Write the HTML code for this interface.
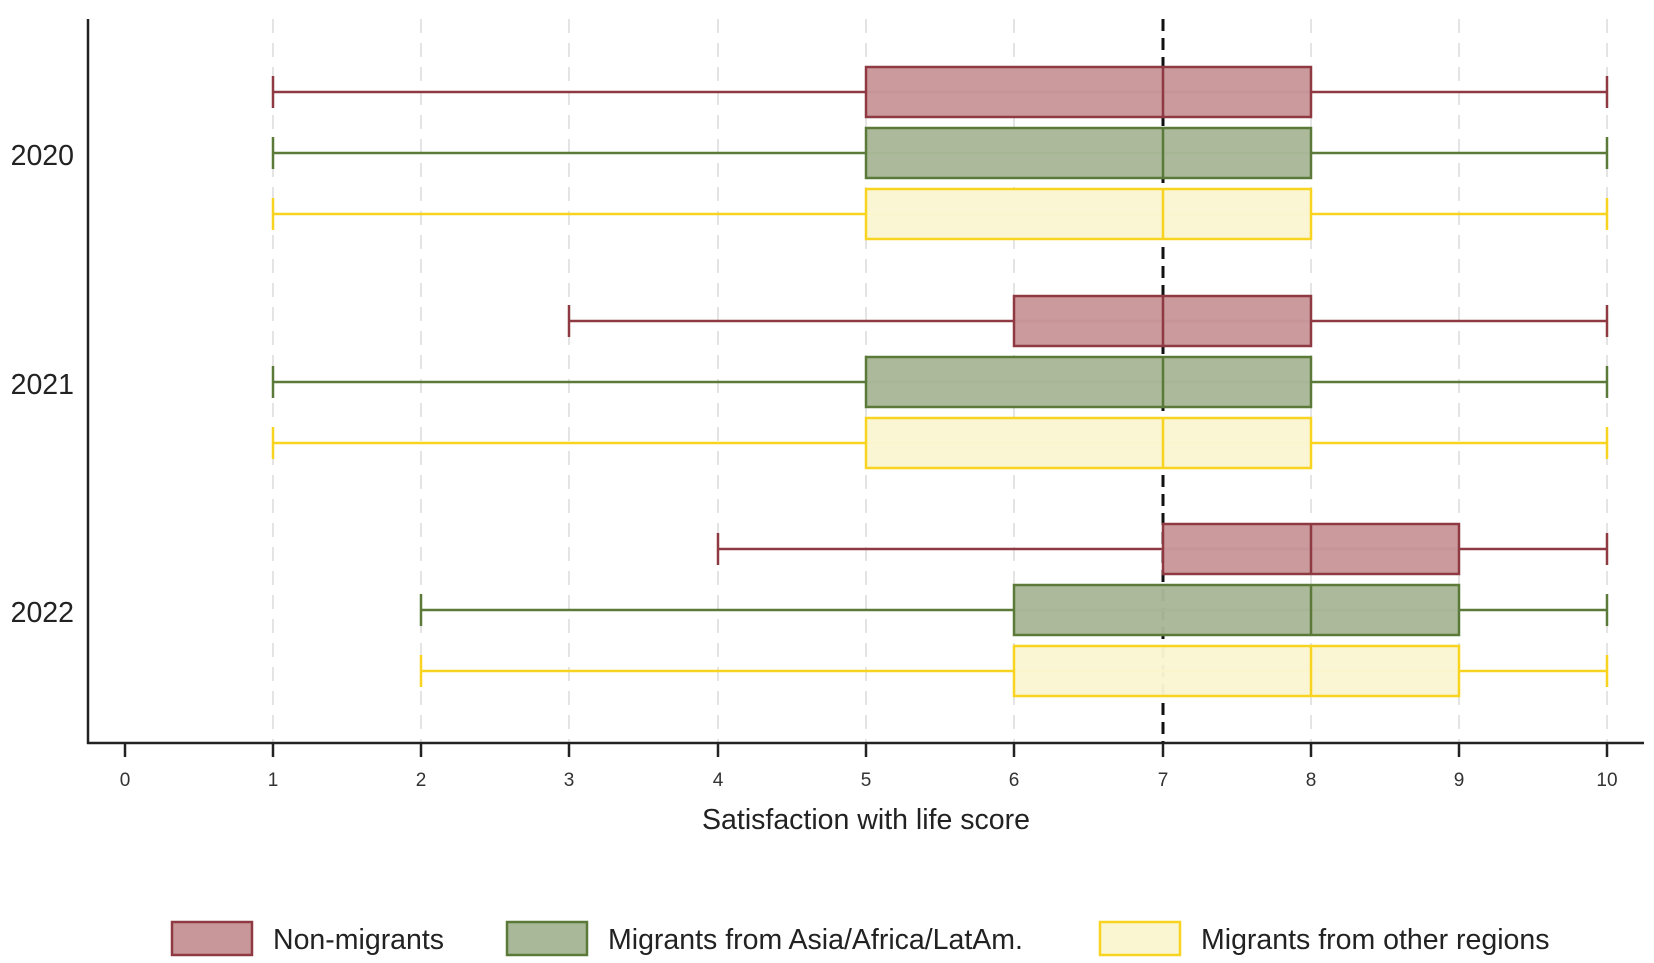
<!DOCTYPE html>
<html><head><meta charset="utf-8"><style>body{margin:0;background:#fff}svg{display:block}</style></head>
<body>
<svg width="1654" height="963" viewBox="0 0 1654 963" xmlns="http://www.w3.org/2000/svg" font-family="Liberation Sans, Arial, sans-serif">
<g stroke="#e4e4e4" stroke-width="2" stroke-dasharray="14,10">
<line x1="273" y1="19" x2="273" y2="743"/><line x1="421" y1="19" x2="421" y2="743"/><line x1="569" y1="19" x2="569" y2="743"/><line x1="718" y1="19" x2="718" y2="743"/><line x1="866" y1="19" x2="866" y2="743"/><line x1="1014" y1="19" x2="1014" y2="743"/><line x1="1311" y1="19" x2="1311" y2="743"/><line x1="1459" y1="19" x2="1459" y2="743"/><line x1="1607" y1="19" x2="1607" y2="743"/>
</g>
<line x1="1163" y1="19" x2="1163" y2="743" stroke="#111" stroke-width="3" stroke-dasharray="12,7"/>
<g stroke-width="2.5">
<g stroke="#8f3a42" fill="#c8979a" fill-opacity="0.97"><line x1="273" y1="92" x2="1607" y2="92"/><line x1="273" y1="76" x2="273" y2="108"/><line x1="1607" y1="76" x2="1607" y2="108"/><rect x="866" y="67" width="445" height="50"/><line x1="1163" y1="67" x2="1163" y2="117"/></g>
<g stroke="#5b7a3a" fill="#a9b898" fill-opacity="0.97"><line x1="273" y1="153" x2="1607" y2="153"/><line x1="273" y1="137" x2="273" y2="169"/><line x1="1607" y1="137" x2="1607" y2="169"/><rect x="866" y="128" width="445" height="50"/><line x1="1163" y1="128" x2="1163" y2="178"/></g>
<g stroke="#f8d420" fill="#faf6d2" fill-opacity="0.97"><line x1="273" y1="214" x2="1607" y2="214"/><line x1="273" y1="198" x2="273" y2="230"/><line x1="1607" y1="198" x2="1607" y2="230"/><rect x="866" y="189" width="445" height="50"/><line x1="1163" y1="189" x2="1163" y2="239"/></g>
<g stroke="#8f3a42" fill="#c8979a" fill-opacity="0.97"><line x1="569" y1="321" x2="1607" y2="321"/><line x1="569" y1="305" x2="569" y2="337"/><line x1="1607" y1="305" x2="1607" y2="337"/><rect x="1014" y="296" width="297" height="50"/><line x1="1163" y1="296" x2="1163" y2="346"/></g>
<g stroke="#5b7a3a" fill="#a9b898" fill-opacity="0.97"><line x1="273" y1="382" x2="1607" y2="382"/><line x1="273" y1="366" x2="273" y2="398"/><line x1="1607" y1="366" x2="1607" y2="398"/><rect x="866" y="357" width="445" height="50"/><line x1="1163" y1="357" x2="1163" y2="407"/></g>
<g stroke="#f8d420" fill="#faf6d2" fill-opacity="0.97"><line x1="273" y1="443" x2="1607" y2="443"/><line x1="273" y1="427" x2="273" y2="459"/><line x1="1607" y1="427" x2="1607" y2="459"/><rect x="866" y="418" width="445" height="50"/><line x1="1163" y1="418" x2="1163" y2="468"/></g>
<g stroke="#8f3a42" fill="#c8979a" fill-opacity="0.97"><line x1="718" y1="549" x2="1607" y2="549"/><line x1="718" y1="533" x2="718" y2="565"/><line x1="1607" y1="533" x2="1607" y2="565"/><rect x="1163" y="524" width="296" height="50"/><line x1="1311" y1="524" x2="1311" y2="574"/></g>
<g stroke="#5b7a3a" fill="#a9b898" fill-opacity="0.97"><line x1="421" y1="610" x2="1607" y2="610"/><line x1="421" y1="594" x2="421" y2="626"/><line x1="1607" y1="594" x2="1607" y2="626"/><rect x="1014" y="585" width="445" height="50"/><line x1="1311" y1="585" x2="1311" y2="635"/></g>
<g stroke="#f8d420" fill="#faf6d2" fill-opacity="0.97"><line x1="421" y1="671" x2="1607" y2="671"/><line x1="421" y1="655" x2="421" y2="687"/><line x1="1607" y1="655" x2="1607" y2="687"/><rect x="1014" y="646" width="445" height="50"/><line x1="1311" y1="646" x2="1311" y2="696"/></g>
</g>
<g stroke="#222" stroke-width="2.5">
<line x1="88" y1="19" x2="88" y2="744"/><line x1="87" y1="743" x2="1644" y2="743"/>
<line x1="125" y1="743" x2="125" y2="757"/><line x1="273" y1="743" x2="273" y2="757"/><line x1="421" y1="743" x2="421" y2="757"/><line x1="569" y1="743" x2="569" y2="757"/><line x1="718" y1="743" x2="718" y2="757"/><line x1="866" y1="743" x2="866" y2="757"/><line x1="1014" y1="743" x2="1014" y2="757"/><line x1="1163" y1="743" x2="1163" y2="757"/><line x1="1311" y1="743" x2="1311" y2="757"/><line x1="1459" y1="743" x2="1459" y2="757"/><line x1="1607" y1="743" x2="1607" y2="757"/>
</g>
<g font-size="19" fill="#333" text-anchor="middle">
<text x="125" y="786">0</text><text x="273" y="786">1</text><text x="421" y="786">2</text><text x="569" y="786">3</text><text x="718" y="786">4</text><text x="866" y="786">5</text><text x="1014" y="786">6</text><text x="1163" y="786">7</text><text x="1311" y="786">8</text><text x="1459" y="786">9</text><text x="1607" y="786">10</text>
</g>
<g font-size="28.5" fill="#222" text-anchor="end">
<text x="74" y="165">2020</text><text x="74" y="394">2021</text><text x="74" y="622">2022</text>
</g>
<text x="866" y="829" font-size="28.5" fill="#222" text-anchor="middle">Satisfaction with life score</text>
<g stroke-width="2.5">
<rect x="172" y="922" width="80" height="33" fill="#c8979a" stroke="#8f3a42"/>
<rect x="507" y="922" width="80" height="33" fill="#a9b898" stroke="#5b7a3a"/>
<rect x="1100" y="922" width="80" height="33" fill="#faf6d2" stroke="#f8d420"/>
</g>
<g font-size="28.5" fill="#222">
<text x="273" y="949">Non-migrants</text><text x="608" y="949">Migrants from Asia/Africa/LatAm.</text><text x="1201" y="949">Migrants from other regions</text>
</g>
</svg>
</body></html>
